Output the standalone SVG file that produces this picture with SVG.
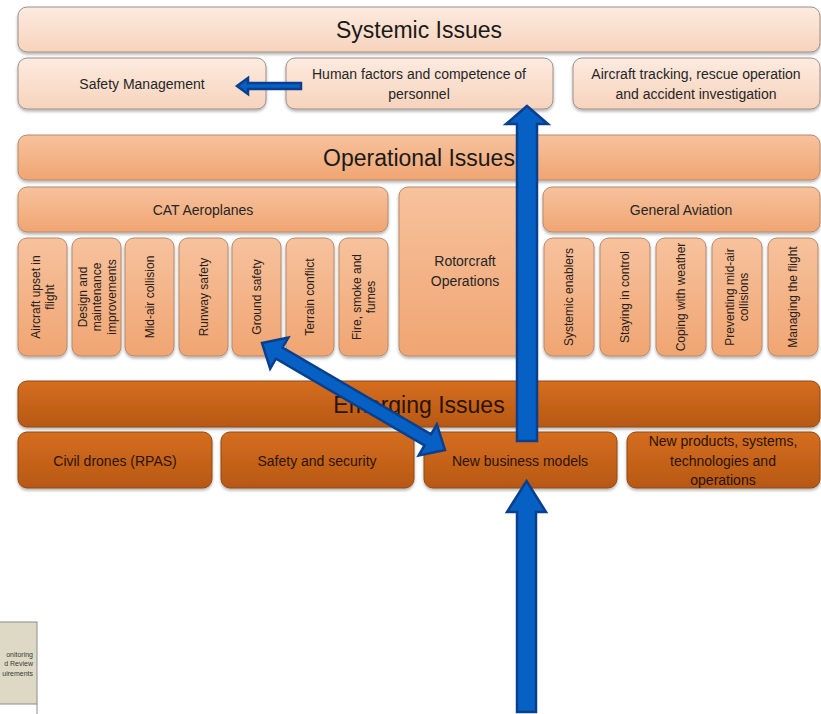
<svg xmlns="http://www.w3.org/2000/svg" width="821" height="714" viewBox="0 0 821 714">
<defs>
<linearGradient id="gSys" x1="0" y1="0" x2="0" y2="1"><stop offset="0" stop-color="#fdebe0"/><stop offset="1" stop-color="#f7d3bc"/></linearGradient>
<linearGradient id="gOp" x1="0" y1="0" x2="0" y2="1"><stop offset="0" stop-color="#f7c29d"/><stop offset="1" stop-color="#f0a572"/></linearGradient>
<linearGradient id="gEm" x1="0" y1="0" x2="0" y2="1"><stop offset="0" stop-color="#d56e20"/><stop offset="1" stop-color="#b75813"/></linearGradient>
<filter id="sh" x="-5%" y="-10%" width="110%" height="130%"><feDropShadow dx="0" dy="2" stdDeviation="1.5" flood-color="#000" flood-opacity="0.3"/></filter>
</defs>
<style>
.sys{fill:url(#gSys);stroke:#9c8f88;stroke-width:1;filter:url(#sh)}
.op{fill:url(#gOp);stroke:#b58a6c;stroke-width:1;filter:url(#sh)}
.em{fill:url(#gEm);stroke:#8f4a18;stroke-width:1;filter:url(#sh)}
text{font-family:"Liberation Sans",Arial,sans-serif;text-anchor:middle}
.t{font-size:14px;fill:#262626}
.v{font-size:12px;fill:#2a2018}
.h{font-size:23px;fill:#1a1a1a}
.te{font-size:14px;fill:#2a1406}
.he{font-size:23px;fill:#2a1406}
.arr{fill:#0760c3;stroke:#0a3f8e;stroke-width:2.5;stroke-linejoin:miter}
</style>
<rect width="821" height="714" fill="#ffffff"/>

<g id="systemic-issues"><rect class="sys" x="18" y="7" width="802" height="45" rx="9"/><text class="h" x="419" y="38">Systemic Issues</text></g>
<g id="safety-management"><rect class="sys" x="18" y="58" width="248" height="51" rx="9"/><text class="t" x="142" y="89">Safety Management</text></g>
<g id="human-factors"><rect class="sys" x="286" y="58" width="267" height="51" rx="9"/><text class="t" x="419" y="79">Human factors and competence of</text><text class="t" x="419" y="99">personnel</text></g>
<g id="aircraft-tracking"><rect class="sys" x="573" y="58" width="247" height="51" rx="9"/><text class="t" x="696" y="79">Aircraft tracking, rescue operation</text><text class="t" x="696" y="99">and accident investigation</text></g>

<g id="operational-issues"><rect class="op" x="18" y="135" width="802" height="45" rx="9"/><text class="h" x="419" y="166">Operational Issues</text></g>
<g id="cat-aeroplanes"><rect class="op" x="18" y="187" width="370" height="45" rx="9"/><text class="t" x="203" y="215">CAT Aeroplanes</text></g>
<g id="rotorcraft"><rect class="op" x="399" y="187" width="133" height="169" rx="9"/><text class="t" x="465" y="266">Rotorcraft</text><text class="t" x="465" y="286">Operations</text></g>
<g id="general-aviation"><rect class="op" x="543" y="187" width="277" height="45" rx="9"/><text class="t" x="681" y="215">General Aviation</text></g>

<g id="cat-1"><rect class="op" x="18" y="238" width="49" height="118" rx="9"/><text class="v" transform="translate(42.5,297) rotate(-90)"><tspan x="0" y="-3">Aircraft upset in</tspan><tspan x="0" y="11">flight</tspan></text></g>
<g id="cat-2"><rect class="op" x="72" y="238" width="49" height="118" rx="9"/><text class="v" transform="translate(96.5,297) rotate(-90)"><tspan x="0" y="-10">Design and</tspan><tspan x="0" y="4.5">maintenance</tspan><tspan x="0" y="19">improvements</tspan></text></g>
<g id="cat-3"><rect class="op" x="125" y="238" width="49" height="118" rx="9"/><text class="v" transform="translate(149.5,297) rotate(-90)" y="4">Mid-air collision</text></g>
<g id="cat-4"><rect class="op" x="179" y="238" width="49" height="118" rx="9"/><text class="v" transform="translate(203.5,297) rotate(-90)" y="4">Runway safety</text></g>
<g id="cat-5"><rect class="op" x="232" y="238" width="49" height="118" rx="9"/><text class="v" transform="translate(256.5,297) rotate(-90)" y="4">Ground safety</text></g>
<g id="cat-6"><rect class="op" x="286" y="238" width="48" height="118" rx="9"/><text class="v" transform="translate(310,297) rotate(-90)" y="4">Terrain conflict</text></g>
<g id="cat-7"><rect class="op" x="339" y="238" width="49" height="118" rx="9"/><text class="v" transform="translate(363.5,297) rotate(-90)"><tspan x="0" y="-3">Fire, smoke and</tspan><tspan x="0" y="11">fumes</tspan></text></g>

<g id="ga-1"><rect class="op" x="544" y="238" width="50" height="118" rx="9"/><text class="v" transform="translate(569,297) rotate(-90)" y="4">Systemic enablers</text></g>
<g id="ga-2"><rect class="op" x="600" y="238" width="50" height="118" rx="9"/><text class="v" transform="translate(625,297) rotate(-90)" y="4">Staying in control</text></g>
<g id="ga-3"><rect class="op" x="656" y="238" width="50" height="118" rx="9"/><text class="v" transform="translate(681,297) rotate(-90)" y="4">Coping with weather</text></g>
<g id="ga-4"><rect class="op" x="712" y="238" width="50" height="118" rx="9"/><text class="v" transform="translate(737,297) rotate(-90)"><tspan x="0" y="-3">Preventing mid-air</tspan><tspan x="0" y="11">collisions</tspan></text></g>
<g id="ga-5"><rect class="op" x="768" y="238" width="50" height="118" rx="9"/><text class="v" transform="translate(793,297) rotate(-90)" y="4">Managing the flight</text></g>

<g id="emerging-issues"><rect class="em" x="18" y="381" width="802" height="46" rx="9"/><text class="he" x="419" y="413">Emerging Issues</text></g>
<g id="civil-drones"><rect class="em" x="18" y="432" width="194" height="56" rx="9"/><text class="te" x="115" y="466">Civil drones (RPAS)</text></g>
<g id="safety-security"><rect class="em" x="221" y="432" width="193" height="56" rx="9"/><text class="te" x="317" y="466">Safety and security</text></g>
<g id="new-business"><rect class="em" x="424" y="432" width="193" height="56" rx="9"/><text class="te" x="520" y="466">New business models</text></g>
<g id="new-products"><rect class="em" x="627" y="432" width="193" height="56" rx="9"/><text class="te" x="723" y="446">New products, systems,</text><text class="te" x="723" y="466">technologies and</text><text class="te" x="723" y="485">operations</text></g>

<g id="monitoring"><rect x="-2" y="622" width="39" height="82" fill="#ddd9c4" stroke="#8c8c8c" stroke-width="1"/><line x1="37" y1="704" x2="37" y2="714" stroke="#8c8c8c" stroke-width="1"/>
<text x="33" y="657" style="font-size:7px;fill:#3a3a3a;text-anchor:end">onitoring</text>
<text x="33" y="666" style="font-size:7px;fill:#3a3a3a;text-anchor:end">d Review</text>
<text x="33" y="676" style="font-size:7px;fill:#3a3a3a;text-anchor:end">uirements</text></g>

<g id="connectors">
<polygon class="arr" points="237,86 248,78 248,83 301,83 301,89 248,89 248,94"/>
<polygon class="arr" points="527,106 548,124 537,124 537,441 517,441 517,124 506,124"/>
<polygon class="arr" points="526.5,481 546,512 536,512 536,712 517,712 517,512 507,512"/>
<g transform="translate(262,343) rotate(30.3)"><polygon class="arr" points="0,0 20,-18 20,-6.5 192,-6.5 192,-18 212,0 192,18 192,6.5 20,6.5 20,18"/></g>
</g>
</svg>
